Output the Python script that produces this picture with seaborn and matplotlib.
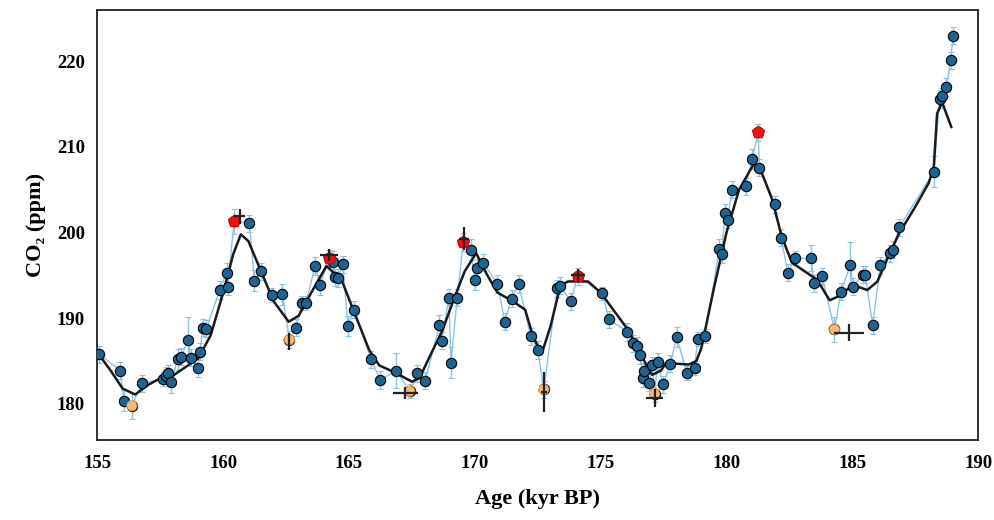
import numpy as np
import pandas as pd
import seaborn as sns
import matplotlib.pyplot as plt

# measured CO2 record (all samples, in age order)
age = [155.08, 155.90, 156.05, 156.37, 156.77, 157.62, 157.71, 157.82, 157.94, 158.19,
       158.32, 158.61, 158.70, 158.98, 159.08, 159.18, 159.33, 159.86, 160.14, 160.18,
       160.43, 161.04, 161.24, 161.51, 161.93, 162.35, 162.63, 162.89, 163.15, 163.29,
       163.65, 163.85, 164.21, 164.36, 164.44, 164.57, 164.75, 164.96, 165.21, 165.87,
       166.25, 166.87, 167.41, 167.72, 168.03, 168.59, 168.68, 168.97, 169.05, 169.30,
       169.54, 169.83, 170.00, 170.07, 170.33, 170.90, 171.19, 171.46, 171.74, 172.22,
       172.50, 172.74, 173.27, 173.37, 173.82, 174.08, 175.07, 175.33, 176.06, 176.30,
       176.45, 176.58, 176.69, 176.74, 176.92, 177.06, 177.14, 177.27, 177.48, 177.77,
       178.02, 178.43, 178.73, 178.86, 179.15, 179.72, 179.81, 179.94, 180.05, 180.22,
       180.76, 181.02, 181.26, 181.31, 181.93, 182.16, 182.45, 182.71, 183.37, 183.46,
       183.80, 184.29, 184.55, 184.92, 185.04, 185.41, 185.51, 185.81, 186.11, 186.49,
       186.62, 186.86, 188.24, 188.47, 188.57, 188.74, 188.91, 189.01]
co2 = [185.8, 183.9, 180.4, 179.8, 182.4, 182.9, 183.3, 183.6, 182.6, 185.2,
       185.5, 187.5, 185.4, 184.2, 186.1, 188.9, 188.8, 193.3, 195.3, 193.7,
       201.3, 201.1, 194.4, 195.5, 192.7, 192.8, 187.5, 188.9, 191.8, 191.8,
       196.1, 193.9, 197.0, 196.6, 194.8, 194.7, 196.3, 189.1, 191.0, 185.2,
       182.8, 183.9, 181.5, 183.6, 182.7, 189.2, 187.4, 192.4, 184.8, 192.4,
       198.9, 198.0, 194.5, 195.9, 196.5, 194.0, 189.6, 192.3, 194.0, 187.9,
       186.3, 181.7, 193.5, 193.8, 192.0, 194.9, 192.9, 189.9, 188.4, 187.1,
       186.8, 185.7, 183.0, 183.8, 182.5, 184.5, 181.2, 184.9, 182.3, 184.7,
       187.8, 183.6, 184.2, 187.6, 187.9, 198.1, 197.5, 202.3, 201.5, 205.0,
       205.4, 208.6, 211.7, 207.6, 203.3, 199.4, 195.3, 197.0, 197.0, 194.1,
       194.9, 188.7, 193.1, 196.2, 193.7, 195.1, 195.1, 189.2, 196.2, 197.6,
       198.0, 200.6, 207.1, 215.6, 215.9, 217.0, 220.1, 223.0]
co2_err = [1.0, 1.0, 1.2, 1.5, 1.0, 0.8, 1.0, 1.0, 1.3, 1.2,
           1.0, 2.6, 1.0, 1.0, 1.0, 1.0, 1.0, 1.0, 1.2, 1.0,
           1.5, 1.0, 1.2, 1.0, 0.8, 1.2, 1.0, 1.0, 0.8, 0.8,
           1.0, 1.2, 1.0, 1.2, 1.0, 1.0, 1.0, 1.2, 1.0, 1.0,
           1.0, 2.0, 0.8, 1.0, 1.0, 1.2, 1.0, 1.0, 1.8, 1.0,
           1.0, 1.2, 1.2, 1.0, 1.0, 1.0, 1.0, 1.0, 1.0, 1.0,
           1.0, 1.0, 1.0, 1.0, 1.0, 1.0, 0.8, 1.0, 1.0, 1.0,
           1.0, 1.0, 1.0, 1.0, 1.0, 1.0, 1.0, 1.0, 1.0, 1.0,
           1.2, 0.8, 0.8, 0.8, 0.8, 1.2, 1.0, 1.0, 1.0, 1.0,
           1.0, 1.2, 1.0, 1.0, 1.0, 1.0, 1.0, 0.8, 1.5, 1.0,
           1.0, 1.5, 1.0, 2.7, 1.0, 1.0, 1.0, 1.0, 1.0, 1.0,
           1.0, 1.0, 1.8, 1.0, 1.0, 1.0, 1.0, 1.0]

# highlighted maxima (red) and minima (orange)
red_age = [160.43, 164.21, 169.54, 174.08, 181.26]
red_co2 = [201.3, 197.0, 198.9, 194.9, 211.7]
orange_age = [156.37, 162.63, 167.41, 172.74, 177.14, 184.29]
orange_co2 = [179.8, 187.5, 181.5, 181.7, 181.2, 188.7]

# reference points with age / CO2 uncertainty (black crosses)
ref_age = [160.65, 162.63, 164.21, 167.24, 169.58, 172.74, 174.10, 177.15, 184.88]
ref_co2 = [201.9, 187.3, 197.4, 181.3, 199.3, 181.4, 195.0, 180.7, 188.3]
ref_xerr = [0.22, 0.04, 0.36, 0.50, 0.20, 0.12, 0.28, 0.33, 0.60]
ref_yerr = [0.9, 0.95, 0.7, 0.7, 1.3, 2.3, 0.75, 1.0, 1.0]

# smoothed curve
smooth_age = [155.0, 155.5, 156.0, 156.5, 157.0, 157.5, 158.0, 158.5, 159.0, 159.5,
              160.0, 160.4, 160.7, 161.0, 161.5, 162.0, 162.6, 163.0, 163.5, 164.1,
              164.7, 165.3, 165.8, 166.2, 166.8, 167.5, 167.8, 168.2, 168.7, 169.2,
              169.6, 170.05, 170.5, 170.9, 171.5, 172.0, 172.3, 172.65, 173.0, 173.4,
              173.7, 174.5, 175.0, 175.5, 176.0, 176.5, 176.9, 177.05, 177.4, 177.6,
              178.0, 178.5, 178.8, 179.0, 179.5, 180.0, 180.5, 181.1, 181.4, 181.8,
              182.2, 182.6, 183.0, 183.6, 184.1, 184.55, 185.0, 185.6, 186.0, 186.46,
              186.86, 187.5, 188.04, 188.24, 188.37, 188.57, 188.94]
smooth_co2 = [186.0, 184.0, 181.8, 181.1, 182.2, 183.0, 183.3, 184.3, 185.3, 188.0,
              193.0, 197.5, 199.8, 199.0, 195.5, 192.0, 189.6, 190.3, 193.0, 196.1,
              194.5, 190.0, 186.3, 184.5, 183.7, 182.6, 183.0, 185.5, 188.5, 192.5,
              195.5, 197.6, 195.0, 193.0, 192.0, 191.0, 188.0, 185.8, 189.0, 193.8,
              194.3, 194.3, 193.0, 191.0, 189.0, 186.5, 184.0, 183.4, 183.9, 184.8,
              184.7, 184.6, 185.0, 186.5, 193.5, 200.0, 205.0, 208.1, 207.0, 204.0,
              199.5, 196.5, 195.7, 194.5, 192.1, 192.7, 193.9, 193.3, 194.3, 197.4,
              199.9, 203.0, 205.8, 207.7, 213.9, 215.2, 212.3]

df = pd.DataFrame({"age": age, "co2": co2})
df_smooth = pd.DataFrame({"age": smooth_age, "co2": smooth_co2})

sns.set_style("white")
plt.rcParams["font.family"] = ["Liberation Serif", "DejaVu Serif"]
plt.rcParams["font.weight"] = "bold"
plt.rcParams["text.color"] = "black"
plt.rcParams["axes.labelcolor"] = "black"

fig, ax = plt.subplots(figsize=(9.94, 5.2), dpi=100)
fig.subplots_adjust(left=0.098, right=0.984, top=0.981, bottom=0.154)

# thin connecting line with error bars
ax.errorbar(age, co2, yerr=co2_err, fmt="none", ecolor="#8cc3e3", elinewidth=1.0,
            capsize=2.5, capthick=0.8, zorder=1)
sns.lineplot(data=df, x="age", y="co2", ax=ax, color="#8cc3e3", linewidth=1.0,
             sort=False, zorder=2)

# smoothed curve
sns.lineplot(data=df_smooth, x="age", y="co2", ax=ax, color="#1a1a1a", linewidth=1.8,
             sort=False, zorder=3)

# sample markers
sns.scatterplot(data=df, x="age", y="co2", ax=ax, color="#1f6390", edgecolor="black",
                linewidth=0.8, s=55, zorder=4)
ax.scatter(orange_age, orange_co2, s=55, color="#f7b877", edgecolor="#d08840",
           linewidth=0.8, linestyle="--", zorder=5)
ax.scatter(red_age, red_co2, s=90, marker="p", color="#ee1111", edgecolor="#cc0000",
           linewidth=0.5, zorder=5)

# reference crosses
ax.errorbar(ref_age, ref_co2, xerr=ref_xerr, yerr=ref_yerr, fmt="none",
            ecolor="#222222", elinewidth=1.6, capsize=0, zorder=6)

ax.set_xlim(155, 190)
ax.set_ylim(175.8, 226)
ax.set_xticks(np.arange(155, 191, 5))
ax.set_yticks(np.arange(180, 221, 10))
ax.tick_params(axis="both", direction="out", length=4, width=1.0, labelsize=13.5,
               colors="black")
for lbl in ax.get_xticklabels() + ax.get_yticklabels():
    lbl.set_fontweight("bold")
ax.tick_params(axis="y", pad=5)
ax.tick_params(axis="x", pad=7)

for sp in ax.spines.values():
    sp.set_visible(True)
    sp.set_color("#222222")
    sp.set_linewidth(1.3)

ax.set_xlabel("Age (kyr BP)", fontsize=16, fontweight="bold", labelpad=12, color="black")
ax.set_ylabel("CO₂ (ppm)", fontsize=16, fontweight="bold", labelpad=8, color="black")

plt.savefig("out.png", dpi=100)
